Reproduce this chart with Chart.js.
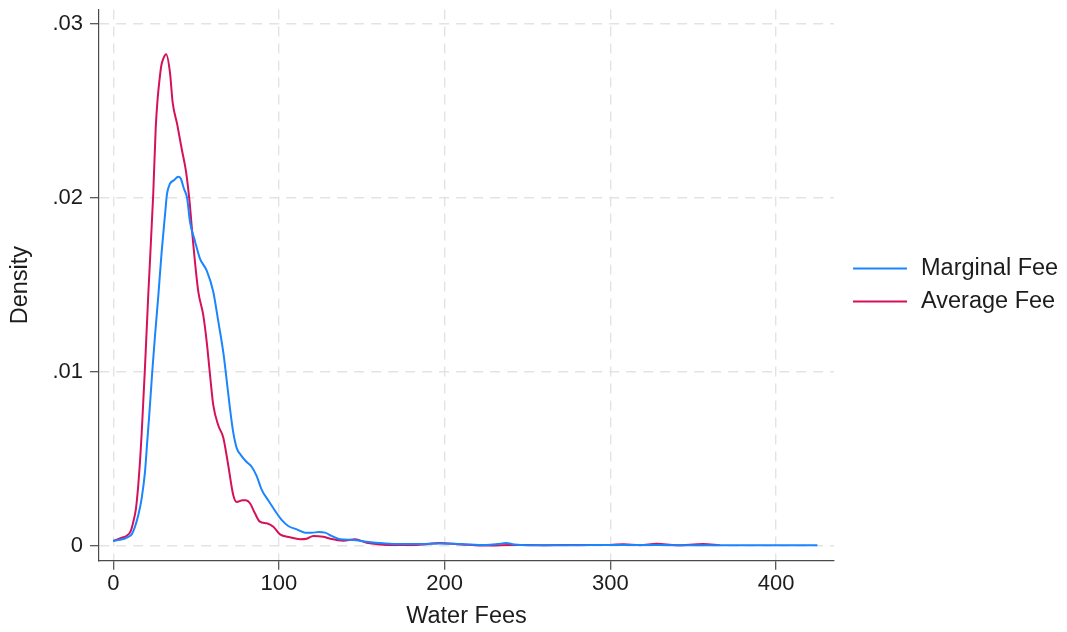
<!DOCTYPE html>
<html>
<head>
<meta charset="utf-8">
<title>Water Fees density</title>
<script src="https://cdn.jsdelivr.net/npm/chart.js@4/dist/chart.umd.min.js"></script>
<style>
  html, body { margin: 0; padding: 0; background: #ffffff; }
  #wrap { width: 1067px; height: 632px; }
</style>
</head>
<body>
<div id="wrap"><canvas id="chart" width="1067" height="632"></canvas></div>
<script>
// Kernel density estimates of water fees (x = fee, y = density)
const marginalX = [0,4,7,9,11.1,13.1,15.1,17.1,19.1,20.5,21.7,22.8,23.6,25.2,27.2,29.2,31.2,32.4,34.2,36.6,39.2,40.7,42.7,44.5,46.3,49.3,52.3,56.4,60.3,63.4,66.4,68.2,70.4,72.4,74.5,77,80.5,83.5,86.5,89.6,93.5,97.6,101.6,105.6,110.7,115.7,119.7,124,127.8,131.8,136.8,144.8,152.9,163,173,185,197,210,225,232,237,242,250,265,280,300,320,340,360,380,400,425];
const marginalY = [0.00026,0.00033,0.0004,0.0005,0.00064,0.00108,0.00175,0.0027,0.0042,0.006,0.0075,0.009,0.0101,0.0121,0.0144,0.0169,0.019,0.0202,0.0208,0.021,0.0212,0.0211,0.0205,0.02,0.0186,0.0175,0.0165,0.0158,0.0146,0.01287,0.0111,0.0097,0.0079,0.0065,0.0056,0.0052,0.0048,0.00453,0.004,0.0032,0.0026,0.002,0.00147,0.00112,0.00093,0.00074,0.00074,0.00077,0.00074,0.00055,0.00036,0.00032,0.00022,0.00013,0.00008,0.00008,0.00012,0.00008,0.00003,0.00008,0.00014,0.00006,0.00002,0.00002,0.00002,0.00003,0.00003,0.00002,0.00002,0.00001,0.00001,0.00002];

const averageX = [0,5.1,8.1,10.5,12.1,13.7,15.1,16.1,17.1,18.1,19,21.1,24.1,25.6,26.6,27.8,29,30.2,31.9,34.2,35.8,38.6,41.3,43.9,45.9,48.3,51.3,54.3,56.4,58.4,60.3,63.4,66.4,69.4,72.4,74.5,78,80,82.5,85.5,88.5,92.6,96.6,100.6,106.6,112.7,116.7,120.7,126.7,130.8,138.8,145.9,152.9,162.9,173,185,197,210,227,240,260,280,295,308,318,328,340,356,366];
const averageY = [0.00026,0.00045,0.00056,0.00083,0.00137,0.00214,0.0035,0.0048,0.0064,0.0083,0.01,0.0144,0.0202,0.024,0.0255,0.0267,0.0276,0.028,0.02825,0.0272,0.0255,0.0242,0.0228,0.0215,0.0199,0.0173,0.0146,0.01325,0.0117,0.0098,0.0081,0.0069,0.0062,0.0046,0.0029,0.0025,0.0026,0.0026,0.00243,0.00185,0.00137,0.00128,0.00108,0.00064,0.00047,0.00036,0.00039,0.00055,0.0005,0.00039,0.00028,0.00036,0.00016,0.00005,0.00003,0.00005,0.00014,0.00006,0,0.00003,0.00002,0.00003,0.00003,0.00007,0.00002,0.0001,0.00002,0.00008,0.00003];

const seriesNames = ['Marginal Fee', 'Average Fee'];

const xTicks = [0, 100, 200, 300, 400];
const xTickLabels = ['0', '100', '200', '300', '400'];
const yTicks = [0, 0.01, 0.02, 0.03];
const yTickLabels = ['0', '.01', '.02', '.03'];

const xTitle = 'Water Fees';
const yTitle = 'Density';

// ---- styling ----
const FONT = '"Liberation Sans", Arial, Helvetica, sans-serif';
const TEXT = '#1c1c1c';
const AXIS = '#4a4a4a';
const GRID = '#e3e3e3';
const BLUE = 'rgb(26,133,255)';
const RED = 'rgb(213,17,89)';

function toPoints(xs, ys) { return xs.map((x, i) => ({ x: x, y: ys[i] })); }

// Legend drawn to the right of the plot: short line sample + label
const sideLegend = {
  id: 'sideLegend',
  afterDraw(chart) {
    const { ctx, chartArea } = chart;
    const sets = chart.data.datasets;
    const mid = (chartArea.top + chartArea.bottom) / 2;
    const rowGap = 33;
    const x0 = chartArea.right + 19;
    ctx.save();
    ctx.font = '23.5px ' + FONT;
    ctx.textBaseline = 'middle';
    ctx.textAlign = 'left';
    sets.forEach((ds, i) => {
      const y = mid + (i - (sets.length - 1) / 2) * rowGap;
      ctx.strokeStyle = ds.borderColor;
      ctx.lineWidth = ds.borderWidth;
      ctx.beginPath();
      ctx.moveTo(x0, y);
      ctx.lineTo(x0 + 54, y);
      ctx.stroke();
      ctx.fillStyle = TEXT;
      ctx.fillText(ds.label, x0 + 68, y);
    });
    ctx.restore();
  }
};

new Chart(document.getElementById('chart'), {
  type: 'line',
  data: {
    datasets: [
      { label: seriesNames[0], data: toPoints(marginalX, marginalY), borderColor: BLUE, backgroundColor: BLUE,
        borderWidth: 2, pointRadius: 0, fill: false, cubicInterpolationMode: 'monotone' },
      { label: seriesNames[1], data: toPoints(averageX, averageY), borderColor: RED, backgroundColor: RED,
        borderWidth: 2, pointRadius: 0, fill: false, cubicInterpolationMode: 'monotone' }
    ]
  },
  options: {
    responsive: false,
    animation: false,
    devicePixelRatio: 1,
    layout: { padding: { top: 9.5, right: 233, bottom: 0, left: 0 } },
    plugins: { legend: { display: false }, tooltip: { enabled: false } },
    scales: {
      x: {
        type: 'linear',
        min: -8.63,
        max: 435,
        afterBuildTicks: (s) => { s.ticks = xTicks.map(v => ({ value: v })); },
        afterFit: (s) => { s.height = 71.3; s.paddingLeft = 0; s.paddingRight = 0; },
        ticks: {
          autoSkip: false, maxRotation: 0, padding: 1, color: TEXT,
          font: { family: FONT, size: 22 },
          callback: (v, i) => xTickLabels[i]
        },
        grid: { color: GRID, lineWidth: 1.4, drawTicks: true, tickLength: 9, tickColor: AXIS, tickWidth: 1.2 },
        border: { display: true, color: AXIS, width: 1.2, dash: [10, 7] },
        title: { display: true, text: xTitle, color: TEXT, font: { family: FONT, size: 23.5 }, padding: { top: 0, bottom: 1 } }
      },
      y: {
        type: 'linear',
        min: -0.000874,
        max: 0.03082,
        afterBuildTicks: (s) => { s.ticks = yTicks.map(v => ({ value: v })); },
        afterFit: (s) => { s.width = 99; s.paddingTop = 0; s.paddingBottom = 0; },
        ticks: {
          autoSkip: false, padding: 7, color: TEXT,
          font: { family: FONT, size: 22 },
          callback: (v, i) => yTickLabels[i]
        },
        grid: { color: GRID, lineWidth: 1.4, drawTicks: true, tickLength: 9, tickColor: AXIS, tickWidth: 1.2 },
        border: { display: true, color: AXIS, width: 1.2, dash: [10, 7] },
        title: { display: true, text: yTitle, color: TEXT, font: { family: FONT, size: 23.5 }, padding: { top: 6.5, bottom: 0 } }
      }
    }
  },
  plugins: [sideLegend]
});
</script>
</body>
</html>
